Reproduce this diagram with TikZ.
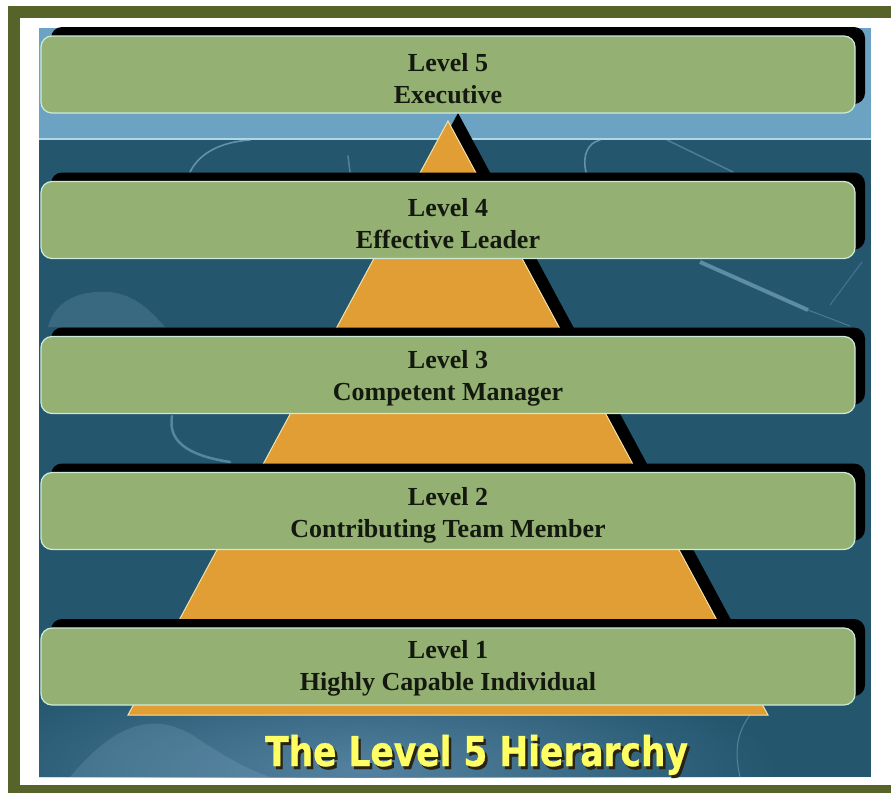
\documentclass[tikz,border=0pt]{standalone}
\usepackage{fontspec}
\usepackage{graphicx}
\usetikzlibrary{shadows,fadings}
\newfontfamily\boxfont{Liberation Serif}
\newfontfamily\titlefont[BoldFeatures={FakeBold=0.8}]{DejaVu Sans}

\definecolor{frameolive}{RGB}{86,100,42}
\definecolor{deepteal}{RGB}{36,86,110}
\definecolor{skyband}{RGB}{108,163,194}
\definecolor{bandline}{RGB}{175,215,230}
\definecolor{lowband}{RGB}{84,130,160}
\definecolor{boxgreen}{RGB}{148,176,115}
\definecolor{boxedge}{RGB}{205,235,215}
\definecolor{boxtext}{RGB}{20,25,15}
\definecolor{pyrorange}{RGB}{224,158,52}
\definecolor{pyredge}{RGB}{245,225,170}
\definecolor{titleyellow}{RGB}{255,255,100}
\definecolor{titleshade}{RGB}{40,35,20}
\definecolor{swoosh}{RGB}{150,195,220}

\tikzfading[name=softglow, inner color=transparent!0, outer color=transparent!100]

% caption text with a dark drop shadow behind the yellow letters
\newcommand{\shadowedcaption}[1]{%
  \makebox[0pt][l]{\hspace{3pt}\raisebox{-3pt}{\color{titleshade}#1}}%
  {\color{titleyellow}#1}}

\begin{document}
\begin{tikzpicture}[x=1pt,y=-1pt,
  levelbox/.style={draw=boxedge, line width=1.2pt, fill=boxgreen,
    rounded corners=11pt, minimum width=814pt, minimum height=77pt,
    inner sep=0pt,
    general shadow={fill=black, shadow xshift=10pt, shadow yshift=9pt}},
  leveltext/.style={align=center, text=boxtext, inner sep=0pt,
    font=\boxfont\bfseries\fontsize{26}{32}\selectfont},
  glint/.style={draw=swoosh, line width=1.6pt, opacity=0.55, line cap=round},
  titletext/.style={font=\titlefont\bfseries\fontsize{41}{41}\selectfont,
    anchor=base west, inner sep=0pt}
]
\useasboundingbox (0,0) rectangle (891,793);
% page and olive frame
\fill[white] (0,0) rectangle (891,793);
\fill[frameolive] (8,6) rectangle (891,793);
\fill[white] (20,18) rectangle (891,785);

% background panel
\fill[deepteal] (39,28) rectangle (871,777);
\fill[skyband] (39,28) rectangle (871,140);
\draw[bandline, line width=1.5pt] (39,139) -- (871,139);
\begin{scope}
  \clip (39,28) rectangle (871,777);
  \fill[lowband, path fading=softglow] (360,770) ellipse [x radius=420, y radius=110];
  \fill[swoosh, opacity=0.18] (70,777) .. controls (110,730) and (150,705) .. (200,740)
    .. controls (230,760) and (250,770) .. (270,777) -- cycle;
\end{scope}

% background swooshes
\draw[glint] (190,172) .. controls (200,152) and (222,142) .. (250,140);
\draw[glint, opacity=0.4] (348,156) -- (350,172);
\draw[glint] (586,172) .. controls (582,155) and (588,143) .. (600,140);
\draw[glint, opacity=0.35] (667,140) -- (733,172);
\draw[swoosh, opacity=0.5, line width=4pt] (700,262) -- (808,310);
\draw[glint, opacity=0.35, line width=1pt] (808,310) -- (850,326);
\draw[glint, opacity=0.3, line width=1pt] (862,262) -- (830,305);
\fill[swoosh, opacity=0.18] (48,327) .. controls (55,300) and (80,290) .. (110,292)
  .. controls (135,295) and (150,310) .. (165,327) -- cycle;
\draw[glint, opacity=0.45, line width=2.5pt] (172,416) .. controls (168,440) and (185,455) .. (230,462);
\draw[glint, opacity=0.4, line width=1pt] (750,715) .. controls (735,735) and (735,755) .. (740,777);

% pyramid with its dark offset shadow
\coordinate (apex) at (448,121);
\coordinate (bl) at (128,715);
\coordinate (br) at (768,715);
\begin{scope}
  \clip (39,28) rectangle (871,702);
  \fill[black] ([shift={(10,-8)}]apex) -- ([shift={(10,-8)}]br)
    -- ([shift={(10,-8)}]bl) -- cycle;
\end{scope}
\filldraw[fill=pyrorange, draw=pyredge, line width=1pt] (apex) -- (br) -- (bl) -- cycle;

% the five levels
\node[levelbox] (l5) at (448,74.5) {};
\node[levelbox] (l4) at (448,220) {};
\node[levelbox] (l3) at (448,375) {};
\node[levelbox] (l2) at (448,511) {};
\node[levelbox] (l1) at (448,666.5) {};
\node[leveltext] (l5t) at ([yshift=-4pt]l5.center) {Level 5\\Executive};
\node[leveltext] (l4t) at ([yshift=-4pt]l4.center) {Level 4\\Effective Leader};
\node[leveltext] (l3t) at ([yshift=-3pt]l3.center) {Level 3\\Competent Manager};
\node[leveltext] (l2t) at ([yshift=-4pt]l2.center) {Level 2\\Contributing Team Member};
\node[leveltext] (l1t) at ([yshift=-2pt]l1.center) {Level 1\\Highly Capable Individual};

% caption
\node[titletext] (title) at (265,766)
  {\scalebox{0.84}[1]{\shadowedcaption{The Level 5 Hierarchy}}};
\end{tikzpicture}
\end{document}
